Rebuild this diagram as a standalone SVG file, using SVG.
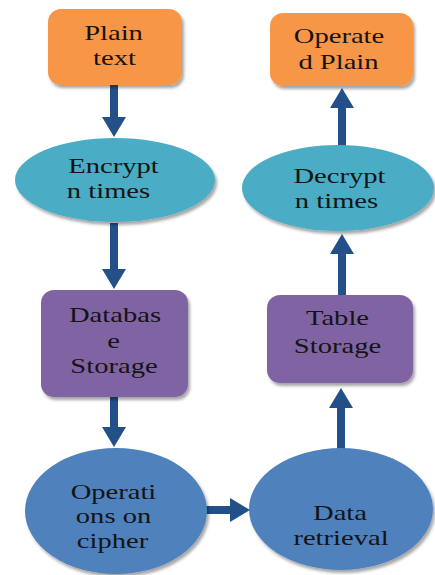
<svg xmlns="http://www.w3.org/2000/svg" width="435" height="575" viewBox="0 0 435 575">
<style>
text{font-family:'Liberation Serif',serif;font-size:22px;fill:#141414;text-anchor:middle}
.sm{font-size:21px}
.orange{fill:#F79646}
.cyan{fill:#4BACC6}
.purple{fill:#8064A2}
.blue{fill:#4F81BD}
.arr{stroke:#24508A;stroke-width:8;fill:none;marker-end:url(#ah)}
</style>
<defs>
<filter id="sh" x="-10%" y="-10%" width="125%" height="130%">
<feDropShadow dx="2" dy="3" stdDeviation="1.5" flood-color="#000" flood-opacity="0.35"/>
</filter>
<marker id="ah" markerUnits="userSpaceOnUse" markerWidth="20" markerHeight="24" refX="1" refY="12" orient="auto">
<path d="M0,0 L20,12 L0,24 z" fill="#24508A"/>
</marker>
</defs>
<rect width="435" height="575" fill="#fff"/>
<g id="connectors">
<line class="arr" x1="114" y1="84" x2="114" y2="118"/>
<line class="arr" x1="114" y1="223" x2="114" y2="270"/>
<line class="arr" x1="114" y1="396" x2="114" y2="428"/>
<line class="arr" x1="206" y1="510" x2="231" y2="510"/>
<line class="arr" x1="341" y1="449" x2="341" y2="407"/>
<line class="arr" x1="342" y1="295" x2="342" y2="253"/>
<line class="arr" x1="342" y1="146" x2="342" y2="107"/>
</g>
<g id="plain-text">
<rect class="orange" x="48" y="9" width="134" height="76" rx="13" filter="url(#sh)"/>
<text transform="translate(113.5,40) scale(1.3,1)">Plain</text>
<text transform="translate(114.5,65) scale(1.3,1)">text</text>
</g>
<g id="operated-plain">
<rect class="orange" x="270" y="13" width="143" height="73" rx="13" filter="url(#sh)"/>
<text transform="translate(339,43) scale(1.3,1)">Operate</text>
<text transform="translate(338.5,69) scale(1.3,1)">d Plain</text>
</g>
<g id="encrypt">
<ellipse class="cyan" cx="115" cy="180" rx="100" ry="42" filter="url(#sh)"/>
<text transform="translate(113.5,173) scale(1.3,1)">Encrypt</text>
<text transform="translate(108.5,198) scale(1.3,1)">n times</text>
</g>
<g id="decrypt">
<ellipse class="cyan" cx="338" cy="188" rx="96" ry="43" filter="url(#sh)"/>
<text transform="translate(339.5,183) scale(1.3,1)">Decrypt</text>
<text transform="translate(336.5,208) scale(1.3,1)">n times</text>
</g>
<g id="database-storage">
<rect class="purple" x="41" y="290" width="147" height="107" rx="13" filter="url(#sh)"/>
<text transform="translate(115,322) scale(1.3,1)">Databas</text>
<text transform="translate(113.5,348) scale(1.3,1)">e</text>
<text transform="translate(114,373) scale(1.3,1)">Storage</text>
</g>
<g id="table-storage">
<rect class="purple" x="267" y="295" width="146" height="88" rx="13" filter="url(#sh)"/>
<text transform="translate(337.5,325) scale(1.3,1)">Table</text>
<text transform="translate(337.5,353) scale(1.3,1)">Storage</text>
</g>
<g id="operations">
<ellipse class="blue" cx="116" cy="511" rx="91" ry="63" filter="url(#sh)"/>
<text class="sm" transform="translate(113.5,499) scale(1.36,1)">Operati</text>
<text class="sm" transform="translate(113.5,523) scale(1.36,1)">ons on</text>
<text class="sm" transform="translate(112.5,548) scale(1.36,1)">cipher</text>
</g>
<g id="data-retrieval">
<ellipse class="blue" cx="341" cy="509" rx="92" ry="61" filter="url(#sh)"/>
<text transform="translate(340,520) scale(1.3,1)">Data</text>
<text transform="translate(341,545) scale(1.3,1)">retrieval</text>
</g>
</svg>
